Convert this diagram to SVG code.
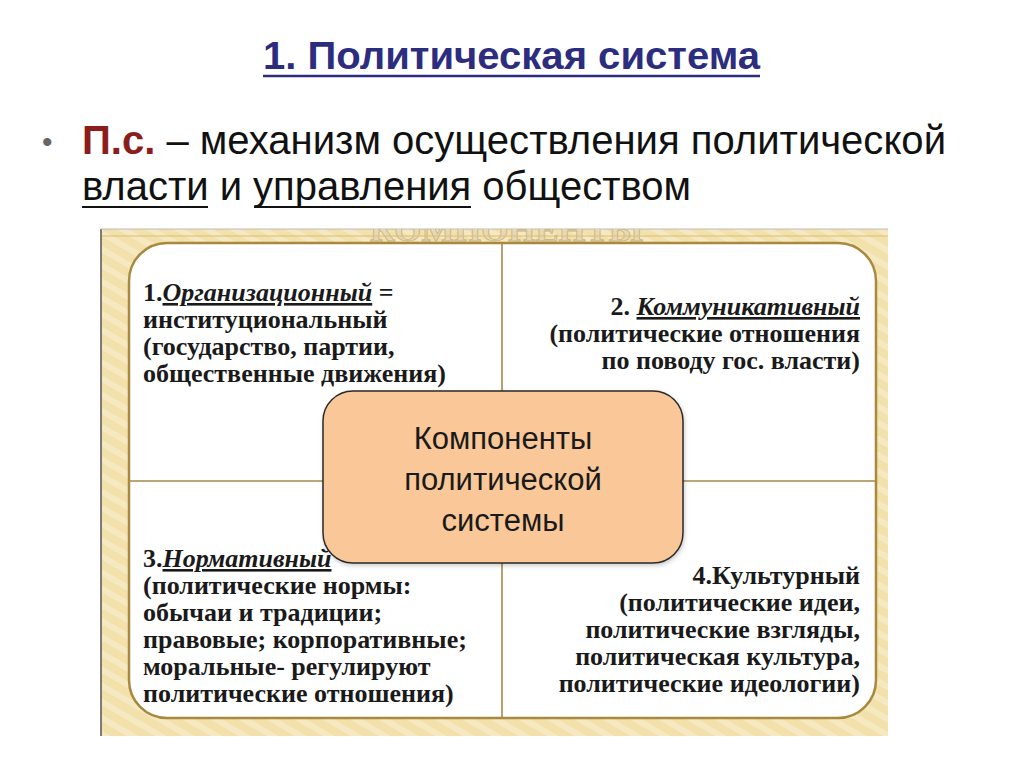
<svg xmlns="http://www.w3.org/2000/svg" width="1024" height="767" viewBox="0 0 1024 767">
<style>
  .title { font-family: "Liberation Sans", Arial, sans-serif; font-weight: bold; font-size: 38px; fill: #2d2d80; }
  .body { font-family: "Liberation Sans", Arial, sans-serif; font-size: 40px; fill: #111; }
  .q { font-family: "Liberation Serif", "Times New Roman", serif; font-weight: bold; font-size: 26px; fill: #1a1a1a; }
  .qi { font-style: italic; text-decoration: underline; }
  .center { font-family: "Liberation Sans", Arial, sans-serif; font-size: 31px; fill: #1a1a1a; text-anchor: middle; }
  .div { stroke: #a5884a; stroke-width: 1.6; fill: none; }
</style>
<defs>
  <pattern id="stripes" width="14" height="14" patternUnits="userSpaceOnUse" patternTransform="rotate(-60)">
    <rect width="14" height="14" fill="#f2e1ab"/>
    <rect width="6" height="14" fill="#f6e8c0"/>
  </pattern>
  <clipPath id="bandClip"><rect x="102" y="229" width="786" height="14"/></clipPath>
  <filter id="shadow" x="-10%" y="-10%" width="120%" height="130%">
    <feDropShadow dx="1" dy="2" stdDeviation="2" flood-color="#000" flood-opacity="0.2"/>
  </filter>
</defs>
<rect width="1024" height="767" fill="#ffffff"/>

<g id="header">
  <text class="title" x="263" y="69" textLength="497" lengthAdjust="spacingAndGlyphs">1. Политическая система</text>
  <line x1="263" y1="76" x2="760" y2="76" stroke="#2d2d80" stroke-width="2.5"/>
  <text x="42" y="152" font-family="Liberation Sans, Arial, sans-serif" font-size="30" fill="#666">•</text>
  <text class="body" x="82" y="154" textLength="864" lengthAdjust="spacingAndGlyphs"><tspan font-weight="bold" fill="#8b1d1d">П.с.</tspan> – механизм осуществления политической</text>
  <text class="body" x="82" y="200" textLength="609" lengthAdjust="spacingAndGlyphs">власти и управления обществом</text>
  <line x1="82" y1="207" x2="208" y2="207" stroke="#111" stroke-width="2"/>
  <line x1="254" y1="207" x2="471" y2="207" stroke="#111" stroke-width="2"/>
</g>

<g id="frame">
  <rect x="101" y="229" width="787" height="507" fill="url(#stripes)"/>
  <line x1="101" y1="229" x2="101" y2="736" stroke="#555" stroke-width="1.5"/>
  <line x1="101" y1="229" x2="888" y2="229" stroke="#bbb" stroke-width="1"/>
  <text x="370" y="241" clip-path="url(#bandClip)" font-family="Liberation Serif, serif" font-weight="bold" font-size="32" fill="#e8d9b2" stroke="#c9b384" stroke-width="0.8" textLength="273" lengthAdjust="spacingAndGlyphs">КОМПОНЕНТЫ</text>
  <line x1="102" y1="236" x2="888" y2="236" stroke="#d8bf7a" stroke-width="1.2"/>
  <rect x="129" y="243" width="747" height="475" rx="38" ry="38" fill="#ffffff" stroke="#a9893f" stroke-width="2.5"/>
</g>

<g id="dividers">
  <line class="div" x1="502" y1="244" x2="502" y2="717"/>
  <line class="div" x1="130" y1="481" x2="875" y2="481"/>
</g>

<g id="q1">
  <text class="q" x="143" y="301">1.<tspan class="qi">Организационный</tspan> =</text>
  <text class="q" x="143" y="328">институциональный</text>
  <text class="q" x="143" y="355">(государство, партии,</text>
  <text class="q" x="143" y="382">общественные движения)</text>
</g>

<g id="q2">
  <text class="q" x="860" y="315" text-anchor="end">2. <tspan class="qi">Коммуникативный</tspan></text>
  <text class="q" x="860" y="342" text-anchor="end">(политические отношения</text>
  <text class="q" x="860" y="369" text-anchor="end">по поводу гос. власти)</text>
</g>

<g id="q3">
  <text class="q" x="143" y="567">3.<tspan class="qi">Нормативный</tspan></text>
  <text class="q" x="143" y="594">(политические нормы:</text>
  <text class="q" x="143" y="621">обычаи и традиции;</text>
  <text class="q" x="143" y="648">правовые; корпоративные;</text>
  <text class="q" x="143" y="675">моральные- регулируют</text>
  <text class="q" x="143" y="702">политические отношения)</text>
</g>

<g id="q4">
  <text class="q" x="860" y="584" text-anchor="end">4.Культурный</text>
  <text class="q" x="860" y="611" text-anchor="end">(политические идеи,</text>
  <text class="q" x="860" y="638" text-anchor="end">политические взгляды,</text>
  <text class="q" x="860" y="665" text-anchor="end">политическая культура,</text>
  <text class="q" x="860" y="692" text-anchor="end">политические идеологии)</text>
</g>

<g id="center">
  <rect x="323" y="391" width="360" height="172" rx="30" ry="30" fill="#fac898" stroke="#2a2a2a" stroke-width="1.5" filter="url(#shadow)"/>
  <text class="center" x="503" y="449">Компоненты</text>
  <text class="center" x="503" y="490">политической</text>
  <text class="center" x="503" y="531">системы</text>
</g>
</svg>
